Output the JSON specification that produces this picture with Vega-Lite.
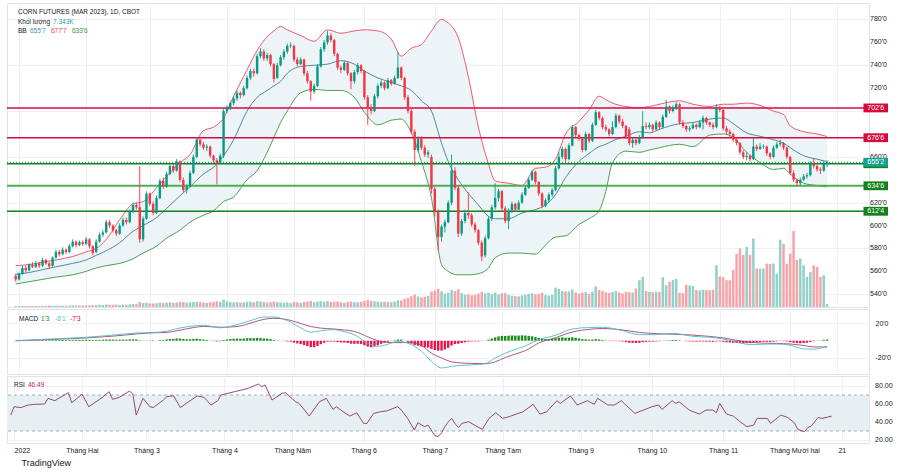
{
  "$schema": "https://vega.github.io/schema/vega-lite/v6.json",
  "background": "#ffffff",
  "padding": {"left": 5, "top": 2, "right": 0, "bottom": 0},
  "spacing": 0,
  "config": {
    "font": "Liberation Sans",
    "view": {"stroke": "#e0e3eb", "strokeWidth": 1},
    "axis": {"labelFont": "Liberation Sans", "labelFontSize": 7, "labelColor": "#131722", "domain": false, "ticks": false, "gridColor": "#eef0f5", "gridWidth": 1, "labelOverlap": false}
  },
  "title": {"text": "TradingView", "orient": "bottom", "anchor": "start", "fontSize": 9, "fontWeight": "normal", "color": "#131722", "font": "Liberation Sans", "offset": 5, "dx": 16},
  "datasets": {
    "bars": [
      {"t":-1,"o":556,"hi":558,"lo":551,"c":553,"v":2.1,"mh":0.2},
      {"t":0,"o":553,"hi":559,"lo":552,"c":558,"v":2.5,"mh":0.3},
      {"t":1,"o":558,"hi":565,"lo":557,"c":563,"v":2.8,"mh":0.4},
      {"t":2,"o":563,"hi":565,"lo":559,"c":561,"v":2.4,"mh":0.4},
      {"t":3,"o":561,"hi":567,"lo":560,"c":566,"v":2.6,"mh":0.5},
      {"t":4,"o":566,"hi":568,"lo":563,"c":564,"v":2.2,"mh":0.5},
      {"t":5,"o":564,"hi":569,"lo":563,"c":567,"v":2.7,"mh":0.6},
      {"t":6,"o":567,"hi":568,"lo":563,"c":565,"v":2.3,"mh":0.6},
      {"t":7,"o":565,"hi":572,"lo":564,"c":570,"v":3.0,"mh":0.7},
      {"t":8,"o":570,"hi":571,"lo":566,"c":567,"v":2.9,"mh":0.7},
      {"t":9,"o":567,"hi":568,"lo":562,"c":564.5,"v":3.4,"mh":0.6},
      {"t":10,"o":565,"hi":573,"lo":564,"c":572,"v":3.1,"mh":0.7},
      {"t":11,"o":572,"hi":579,"lo":571,"c":577,"v":3.6,"mh":0.8},
      {"t":12,"o":577,"hi":579,"lo":573,"c":575,"v":3.0,"mh":0.8},
      {"t":13,"o":575,"hi":581,"lo":574,"c":579,"v":3.3,"mh":0.9},
      {"t":14,"o":579,"hi":580,"lo":575,"c":577,"v":2.8,"mh":0.9},
      {"t":15,"o":577,"hi":584,"lo":576,"c":582,"v":3.5,"mh":1.0},
      {"t":16,"o":582,"hi":588,"lo":581,"c":586,"v":4.0,"mh":1.0},
      {"t":17,"o":586,"hi":587,"lo":581,"c":583,"v":3.7,"mh":1.0},
      {"t":18,"o":583,"hi":587,"lo":582,"c":585.5,"v":3.4,"mh":1.0},
      {"t":19,"o":585.5,"hi":587,"lo":582,"c":584,"v":3.9,"mh":1.0},
      {"t":20,"o":584,"hi":590,"lo":583,"c":588,"v":4.5,"mh":1.1},
      {"t":21,"o":588,"hi":589,"lo":580,"c":582,"v":4.2,"mh":1.0},
      {"t":22,"o":582,"hi":583,"lo":574,"c":576,"v":4.8,"mh":0.8},
      {"t":23,"o":577,"hi":588,"lo":576,"c":586,"v":5.1,"mh":0.9},
      {"t":24,"o":586,"hi":594,"lo":585,"c":592,"v":5.5,"mh":1.1},
      {"t":25,"o":592,"hi":596,"lo":590,"c":594,"v":5.0,"mh":1.2},
      {"t":26,"o":594,"hi":605,"lo":593,"c":603,"v":6.2,"mh":1.4},
      {"t":27,"o":603,"hi":605,"lo":598,"c":600,"v":5.8,"mh":1.4},
      {"t":28,"o":600,"hi":601,"lo":594,"c":596,"v":5.6,"mh":1.3},
      {"t":29,"o":596,"hi":597,"lo":591,"c":593,"v":6.0,"mh":1.1},
      {"t":30,"o":593,"hi":602,"lo":592,"c":600,"v":5.4,"mh":1.2},
      {"t":31,"o":600,"hi":607,"lo":599,"c":605,"v":6.1,"mh":1.3},
      {"t":32,"o":605,"hi":607,"lo":601,"c":603,"v":5.7,"mh":1.3},
      {"t":33,"o":603,"hi":614,"lo":602,"c":612,"v":6.8,"mh":1.5},
      {"t":34,"o":612,"hi":620,"lo":611,"c":618,"v":7.5,"mh":1.6},
      {"t":35,"o":618,"hi":620,"lo":614,"c":616,"v":7.1,"mh":1.5},
      {"t":36,"o":616,"hi":652,"lo":585,"c":588,"v":12.5,"mh":0.6},
      {"t":37,"o":588,"hi":608,"lo":586,"c":606,"v":9.8,"mh":0.2},
      {"t":38,"o":606,"hi":630,"lo":605,"c":628,"v":10.5,"mh":0.3},
      {"t":39,"o":628,"hi":629,"lo":617,"c":619,"v":9.2,"mh":-0.3},
      {"t":40,"o":619,"hi":621,"lo":609,"c":611,"v":8.8,"mh":-0.5},
      {"t":41,"o":611,"hi":626,"lo":610,"c":624,"v":9.6,"mh":0.1},
      {"t":42,"o":624,"hi":641,"lo":623,"c":639,"v":11.2,"mh":0.8},
      {"t":43,"o":639,"hi":642,"lo":632,"c":634,"v":10.1,"mh":0.9},
      {"t":44,"o":634,"hi":647,"lo":633,"c":645,"v":10.8,"mh":1.5},
      {"t":45,"o":645,"hi":654,"lo":644,"c":652,"v":11.9,"mh":2.0},
      {"t":46,"o":652,"hi":654,"lo":646,"c":648,"v":10.4,"mh":2.1},
      {"t":47,"o":648,"hi":658,"lo":647,"c":656,"v":11.0,"mh":2.6},
      {"t":48,"o":656,"hi":657,"lo":638,"c":640,"v":12.8,"mh":2.5},
      {"t":49,"o":640,"hi":642,"lo":629,"c":631,"v":12.2,"mh":2.0},
      {"t":50,"o":631,"hi":636,"lo":628,"c":634,"v":10.6,"mh":1.7},
      {"t":51,"o":634,"hi":648,"lo":633,"c":646,"v":11.5,"mh":1.8},
      {"t":52,"o":646,"hi":662,"lo":645,"c":660,"v":12.6,"mh":2.1},
      {"t":53,"o":660,"hi":677,"lo":659,"c":675,"v":13.4,"mh":2.3},
      {"t":54,"o":675,"hi":676,"lo":669,"c":671,"v":12.0,"mh":1.9},
      {"t":55,"o":671,"hi":673,"lo":666,"c":668,"v":11.3,"mh":1.4},
      {"t":56,"o":668,"hi":671,"lo":665,"c":669,"v":10.2,"mh":1.0},
      {"t":57,"o":669,"hi":670,"lo":659,"c":661,"v":11.8,"mh":0.3},
      {"t":58,"o":661,"hi":662,"lo":655,"c":657,"v":12.4,"mh":-0.4},
      {"t":59,"o":657,"hi":659,"lo":636,"c":655,"v":14.5,"mh":-0.8},
      {"t":60,"o":655,"hi":663,"lo":654,"c":661,"v":12.9,"mh":-0.6},
      {"t":61,"o":661,"hi":702,"lo":659,"c":700,"v":18.6,"mh":0.9},
      {"t":62,"o":700,"hi":705,"lo":698,"c":703,"v":14.2,"mh":1.5},
      {"t":63,"o":703,"hi":709,"lo":701,"c":707,"v":12.8,"mh":1.9},
      {"t":64,"o":707,"hi":713,"lo":705,"c":711,"v":11.7,"mh":2.2},
      {"t":65,"o":711,"hi":718,"lo":709,"c":716,"v":12.3,"mh":2.5},
      {"t":66,"o":716,"hi":717,"lo":711,"c":714,"v":10.9,"mh":2.4},
      {"t":67,"o":714,"hi":722,"lo":713,"c":720,"v":11.4,"mh":2.6},
      {"t":68,"o":720,"hi":731,"lo":719,"c":729,"v":12.9,"mh":2.9},
      {"t":69,"o":729,"hi":737,"lo":727,"c":735,"v":13.5,"mh":3.0},
      {"t":70,"o":735,"hi":737,"lo":730,"c":733,"v":11.6,"mh":2.9},
      {"t":71,"o":733,"hi":750,"lo":732,"c":748,"v":14.8,"mh":3.1},
      {"t":72,"o":748,"hi":755,"lo":746,"c":752,"v":13.9,"mh":3.0},
      {"t":73,"o":752,"hi":754,"lo":744,"c":746,"v":12.7,"mh":2.7},
      {"t":74,"o":746,"hi":751,"lo":744,"c":749,"v":11.2,"mh":2.5},
      {"t":75,"o":749,"hi":750,"lo":739,"c":741,"v":12.0,"mh":1.9},
      {"t":76,"o":741,"hi":742,"lo":725,"c":728,"v":13.8,"mh":0.8},
      {"t":77,"o":729,"hi":742,"lo":728,"c":740,"v":12.4,"mh":0.3},
      {"t":78,"o":740,"hi":749,"lo":739,"c":747,"v":11.1,"mh":-0.1},
      {"t":79,"o":747,"hi":754,"lo":745,"c":752,"v":10.5,"mh":-0.4},
      {"t":80,"o":752,"hi":759,"lo":750,"c":757,"v":11.8,"mh":-0.8},
      {"t":81,"o":757,"hi":760,"lo":755,"c":757.5,"v":9.6,"mh":-1.2},
      {"t":82,"o":757,"hi":758,"lo":743,"c":745,"v":12.3,"mh":-2.2},
      {"t":83,"o":745,"hi":747,"lo":739,"c":741,"v":11.7,"mh":-3.1},
      {"t":84,"o":741,"hi":747,"lo":740,"c":745,"v":10.3,"mh":-3.8},
      {"t":85,"o":745,"hi":746,"lo":731,"c":733,"v":12.6,"mh":-5.0},
      {"t":86,"o":733,"hi":735,"lo":724,"c":726,"v":13.4,"mh":-6.2},
      {"t":87,"o":726,"hi":727,"lo":709,"c":717,"v":15.2,"mh":-7.5},
      {"t":88,"o":717,"hi":724,"lo":715,"c":722,"v":12.1,"mh":-7.6},
      {"t":89,"o":722,"hi":741,"lo":721,"c":739,"v":13.7,"mh":-6.1},
      {"t":90,"o":739,"hi":756,"lo":738,"c":754,"v":14.4,"mh":-4.0},
      {"t":91,"o":754,"hi":762,"lo":752,"c":760,"v":13.1,"mh":-2.4},
      {"t":92,"o":760,"hi":770,"lo":758,"c":766,"v":14.9,"mh":-1.1},
      {"t":93,"o":766,"hi":768,"lo":760,"c":762,"v":12.5,"mh":-0.9},
      {"t":94,"o":762,"hi":763,"lo":748,"c":750,"v":13.3,"mh":-1.0},
      {"t":95,"o":750,"hi":751,"lo":736,"c":738,"v":14.0,"mh":-1.5},
      {"t":96,"o":738,"hi":740,"lo":733,"c":736,"v":11.9,"mh":-2.0},
      {"t":97,"o":736,"hi":744,"lo":735,"c":742,"v":10.7,"mh":-2.1},
      {"t":98,"o":742,"hi":743,"lo":731,"c":733,"v":12.8,"mh":-2.6},
      {"t":99,"o":733,"hi":734,"lo":719,"c":726,"v":13.6,"mh":-3.4},
      {"t":100,"o":726,"hi":736,"lo":724,"c":734,"v":12.2,"mh":-3.6},
      {"t":101,"o":734,"hi":742,"lo":732,"c":740,"v":11.8,"mh":-3.5},
      {"t":102,"o":740,"hi":741,"lo":733,"c":735,"v":12.6,"mh":-3.9},
      {"t":103,"o":735,"hi":736,"lo":710,"c":712,"v":15.1,"mh":-5.3},
      {"t":104,"o":712,"hi":714,"lo":688,"c":703,"v":17.8,"mh":-6.8},
      {"t":105,"o":703,"hi":706,"lo":697,"c":700,"v":15.5,"mh":-7.6},
      {"t":106,"o":700,"hi":715,"lo":699,"c":713,"v":14.3,"mh":-6.8},
      {"t":107,"o":713,"hi":724,"lo":711,"c":722,"v":13.6,"mh":-5.2},
      {"t":108,"o":722,"hi":727,"lo":720,"c":725,"v":12.4,"mh":-3.6},
      {"t":109,"o":725,"hi":726,"lo":718,"c":720,"v":13.0,"mh":-2.4},
      {"t":110,"o":720,"hi":729,"lo":719,"c":727,"v":12.7,"mh":-1.2},
      {"t":111,"o":727,"hi":728,"lo":722,"c":724,"v":11.9,"mh":-0.3},
      {"t":112,"o":724,"hi":731,"lo":723,"c":729,"v":13.8,"mh":0.6},
      {"t":113,"o":729,"hi":752,"lo":728,"c":738,"v":17.2,"mh":1.4},
      {"t":114,"o":738,"hi":739,"lo":727,"c":729,"v":16.4,"mh":1.3},
      {"t":115,"o":729,"hi":730,"lo":710,"c":712,"v":20.5,"mh":0.2},
      {"t":116,"o":712,"hi":714,"lo":698,"c":700,"v":22.5,"mh":-1.3},
      {"t":117,"o":700,"hi":702,"lo":680,"c":682,"v":26.8,"mh":-3.2},
      {"t":118,"o":682,"hi":684,"lo":652,"c":666,"v":31.2,"mh":-5.2},
      {"t":119,"o":666,"hi":678,"lo":664,"c":676,"v":26.5,"mh":-5.8},
      {"t":120,"o":676,"hi":678,"lo":666,"c":668,"v":24.1,"mh":-6.7},
      {"t":121,"o":668,"hi":670,"lo":660,"c":662,"v":25.3,"mh":-7.6},
      {"t":122,"o":662,"hi":666,"lo":659,"c":664,"v":27.6,"mh":-8.0},
      {"t":123,"o":660,"hi":662,"lo":628,"c":632,"v":38.4,"mh":-9.5},
      {"t":124,"o":632,"hi":634,"lo":608,"c":612,"v":41.2,"mh":-10.8},
      {"t":125,"o":612,"hi":614,"lo":578,"c":590,"v":45.6,"mh":-11.6},
      {"t":126,"o":590,"hi":601,"lo":586,"c":599,"v":38.9,"mh":-11.4},
      {"t":127,"o":599,"hi":605,"lo":594,"c":603,"v":33.1,"mh":-10.2},
      {"t":128,"o":603,"hi":622,"lo":602,"c":620,"v":35.7,"mh":-8.3},
      {"t":129,"o":620,"hi":662,"lo":618,"c":648,"v":42.8,"mh":-5.6},
      {"t":130,"o":648,"hi":651,"lo":631,"c":633,"v":39.5,"mh":-3.9},
      {"t":131,"o":633,"hi":635,"lo":590,"c":593,"v":44.3,"mh":-3.5},
      {"t":132,"o":593,"hi":606,"lo":591,"c":604,"v":34.6,"mh":-2.7},
      {"t":133,"o":604,"hi":614,"lo":602,"c":611,"v":30.2,"mh":-1.8},
      {"t":134,"o":611,"hi":629,"lo":606,"c":609,"v":31.8,"mh":-1.1},
      {"t":135,"o":609,"hi":611,"lo":599,"c":601,"v":29.4,"mh":-0.8},
      {"t":136,"o":601,"hi":603,"lo":594,"c":596,"v":30.7,"mh":-0.6},
      {"t":137,"o":596,"hi":597,"lo":583,"c":585,"v":33.5,"mh":-0.7},
      {"t":138,"o":585,"hi":587,"lo":569,"c":573,"v":37.9,"mh":-0.4},
      {"t":139,"o":574,"hi":591,"lo":572,"c":589,"v":34.2,"mh":0.2},
      {"t":140,"o":589,"hi":608,"lo":588,"c":606,"v":35.8,"mh":1.2},
      {"t":141,"o":606,"hi":618,"lo":604,"c":616,"v":32.6,"mh":2.4},
      {"t":142,"o":616,"hi":637,"lo":614,"c":624,"v":36.1,"mh":3.8},
      {"t":143,"o":624,"hi":632,"lo":621,"c":630,"v":31.4,"mh":5.0},
      {"t":144,"o":630,"hi":631,"lo":613,"c":615,"v":33.9,"mh":5.6},
      {"t":145,"o":615,"hi":617,"lo":602,"c":604,"v":35.2,"mh":5.5},
      {"t":146,"o":604,"hi":615,"lo":597,"c":613,"v":30.8,"mh":5.8},
      {"t":147,"o":613,"hi":621,"lo":611,"c":619,"v":28.4,"mh":6.1},
      {"t":148,"o":619,"hi":620,"lo":612,"c":614,"v":27.2,"mh":5.9},
      {"t":149,"o":614,"hi":622,"lo":613,"c":620,"v":26.5,"mh":6.0},
      {"t":150,"o":620,"hi":629,"lo":619,"c":627,"v":29.1,"mh":6.2},
      {"t":151,"o":627,"hi":635,"lo":626,"c":633,"v":30.5,"mh":6.0},
      {"t":152,"o":633,"hi":642,"lo":632,"c":640,"v":32.8,"mh":5.6},
      {"t":153,"o":640,"hi":649,"lo":639,"c":647,"v":34.4,"mh":5.1},
      {"t":154,"o":647,"hi":648,"lo":636,"c":638,"v":31.7,"mh":4.2},
      {"t":155,"o":638,"hi":639,"lo":626,"c":628,"v":33.0,"mh":3.2},
      {"t":156,"o":628,"hi":629,"lo":615,"c":617,"v":35.6,"mh":2.3},
      {"t":157,"o":617,"hi":624,"lo":616,"c":622,"v":29.8,"mh":2.0},
      {"t":158,"o":622,"hi":629,"lo":620,"c":627,"v":28.6,"mh":2.1},
      {"t":159,"o":627,"hi":633,"lo":625,"c":631,"v":30.2,"mh":2.3},
      {"t":160,"o":631,"hi":652,"lo":630,"c":650,"v":48.5,"mh":3.0},
      {"t":161,"o":650,"hi":664,"lo":649,"c":660,"v":45.1,"mh":3.6},
      {"t":162,"o":660,"hi":669,"lo":658,"c":667,"v":40.3,"mh":3.9},
      {"t":163,"o":667,"hi":668,"lo":655,"c":658,"v":38.6,"mh":3.5},
      {"t":164,"o":658,"hi":672,"lo":657,"c":670,"v":39.4,"mh":3.6},
      {"t":165,"o":670,"hi":688,"lo":669,"c":686,"v":43.7,"mh":4.0},
      {"t":166,"o":686,"hi":687,"lo":677,"c":679,"v":36.2,"mh":3.4},
      {"t":167,"o":679,"hi":680,"lo":674,"c":676,"v":33.5,"mh":2.7},
      {"t":168,"o":676,"hi":677,"lo":664,"c":666,"v":35.8,"mh":1.8},
      {"t":169,"o":666,"hi":682,"lo":665,"c":680,"v":37.4,"mh":1.7},
      {"t":170,"o":680,"hi":681,"lo":672,"c":674,"v":32.9,"mh":1.2},
      {"t":171,"o":674,"hi":690,"lo":673,"c":688,"v":38.1,"mh":1.4},
      {"t":172,"o":688,"hi":701,"lo":687,"c":699,"v":51.5,"mh":1.8},
      {"t":173,"o":699,"hi":700,"lo":692,"c":694,"v":42.6,"mh":1.5},
      {"t":174,"o":694,"hi":695,"lo":684,"c":686,"v":40.2,"mh":0.9},
      {"t":175,"o":686,"hi":688,"lo":682,"c":684,"v":36.7,"mh":0.3},
      {"t":176,"o":684,"hi":685,"lo":678,"c":680,"v":35.4,"mh":-0.3},
      {"t":177,"o":680,"hi":691,"lo":679,"c":686,"v":37.9,"mh":-0.5},
      {"t":178,"o":686,"hi":698,"lo":685,"c":696,"v":39.8,"mh":-0.4},
      {"t":179,"o":696,"hi":697,"lo":689,"c":691,"v":36.5,"mh":-0.6},
      {"t":180,"o":691,"hi":693,"lo":685,"c":687,"v":34.1,"mh":-0.9},
      {"t":181,"o":687,"hi":688,"lo":676,"c":678,"v":38.3,"mh":-1.6},
      {"t":182,"o":684,"hi":686,"lo":670,"c":672,"v":37.0,"mh":-2.3},
      {"t":183,"o":672,"hi":677,"lo":668,"c":675,"v":36.2,"mh":-2.5},
      {"t":184,"o":675,"hi":676,"lo":670,"c":672,"v":46.4,"mh":-2.6},
      {"t":185,"o":672,"hi":679,"lo":671,"c":677,"v":66.8,"mh":-2.4},
      {"t":186,"o":677,"hi":700,"lo":676,"c":687,"v":75.2,"mh":-1.7},
      {"t":187,"o":687,"hi":690,"lo":684,"c":686,"v":40.3,"mh":-1.3},
      {"t":188,"o":686,"hi":690,"lo":684,"c":688,"v":37.5,"mh":-1.0},
      {"t":189,"o":688,"hi":689,"lo":682,"c":684,"v":36.8,"mh":-1.0},
      {"t":190,"o":684,"hi":692,"lo":683,"c":690,"v":38.4,"mh":-0.7},
      {"t":191,"o":690,"hi":691,"lo":684,"c":686,"v":37.9,"mh":-0.6},
      {"t":192,"o":686,"hi":697,"lo":685,"c":695,"v":74.6,"mh":-0.2},
      {"t":193,"o":695,"hi":710,"lo":694,"c":704,"v":54.3,"mh":0.4},
      {"t":194,"o":704,"hi":705,"lo":698,"c":700,"v":63.1,"mh":0.6},
      {"t":195,"o":700,"hi":705,"lo":699,"c":703,"v":67.5,"mh":0.8},
      {"t":196,"o":703,"hi":708,"lo":701,"c":706,"v":70.2,"mh":0.9},
      {"t":197,"o":706,"hi":707,"lo":688,"c":690,"v":35.6,"mh":0.4},
      {"t":198,"o":690,"hi":692,"lo":685,"c":687,"v":34.8,"mh":-0.1},
      {"t":199,"o":687,"hi":688,"lo":682,"c":684,"v":55.4,"mh":-0.6},
      {"t":200,"o":684,"hi":687,"lo":682,"c":685,"v":54.1,"mh":-0.8},
      {"t":201,"o":685,"hi":690,"lo":684,"c":688,"v":52.7,"mh":-0.9},
      {"t":202,"o":688,"hi":689,"lo":684,"c":686,"v":42.2,"mh":-1.0},
      {"t":203,"o":686,"hi":692,"lo":685,"c":690,"v":41.5,"mh":-1.0},
      {"t":204,"o":690,"hi":696,"lo":684,"c":694,"v":43.0,"mh":-0.9},
      {"t":205,"o":694,"hi":695,"lo":688,"c":690,"v":42.6,"mh":-1.0},
      {"t":206,"o":690,"hi":691,"lo":686,"c":688,"v":41.8,"mh":-1.1},
      {"t":207,"o":688,"hi":690,"lo":684,"c":686,"v":43.4,"mh":-1.2},
      {"t":208,"o":686,"hi":706,"lo":685,"c":703,"v":104.5,"mh":-0.8},
      {"t":209,"o":703,"hi":705,"lo":699,"c":701,"v":76.3,"mh":-0.7},
      {"t":210,"o":701,"hi":702,"lo":683,"c":685,"v":75.1,"mh":-1.3},
      {"t":211,"o":685,"hi":687,"lo":680,"c":682,"v":67.2,"mh":-1.8},
      {"t":212,"o":682,"hi":684,"lo":677,"c":680,"v":66.8,"mh":-2.0},
      {"t":213,"o":680,"hi":681,"lo":673,"c":675,"v":92.4,"mh":-2.4},
      {"t":214,"o":675,"hi":677,"lo":670,"c":672,"v":133.0,"mh":-2.6},
      {"t":215,"o":672,"hi":673,"lo":662,"c":664,"v":146.2,"mh":-2.9},
      {"t":216,"o":664,"hi":666,"lo":658,"c":660,"v":130.4,"mh":-3.0},
      {"t":217,"o":660,"hi":664,"lo":657,"c":661,"v":150.1,"mh":-2.9},
      {"t":218,"o":661,"hi":662,"lo":656,"c":658,"v":130.6,"mh":-2.8},
      {"t":219,"o":658,"hi":677,"lo":657,"c":669,"v":171.4,"mh":-2.2},
      {"t":220,"o":669,"hi":671,"lo":665,"c":667,"v":96.3,"mh":-1.9},
      {"t":221,"o":667,"hi":672,"lo":666,"c":669,"v":95.8,"mh":-1.5},
      {"t":222,"o":669,"hi":671,"lo":667,"c":669.5,"v":96.1,"mh":-1.2},
      {"t":223,"o":669,"hi":670,"lo":661,"c":663,"v":108.4,"mh":-1.3},
      {"t":224,"o":663,"hi":664,"lo":658,"c":660,"v":107.6,"mh":-1.4},
      {"t":225,"o":660,"hi":670,"lo":659,"c":668,"v":108.9,"mh":-1.1},
      {"t":226,"o":668,"hi":673,"lo":667,"c":671,"v":83.2,"mh":-0.7},
      {"t":227,"o":671,"hi":675,"lo":669,"c":672,"v":168.3,"mh":-0.4},
      {"t":228,"o":672,"hi":673,"lo":666,"c":668,"v":158.0,"mh":-0.5},
      {"t":229,"o":668,"hi":669,"lo":658,"c":660,"v":108.2,"mh":-0.9},
      {"t":230,"o":660,"hi":661,"lo":644,"c":646,"v":133.4,"mh":-1.6},
      {"t":231,"o":646,"hi":648,"lo":638,"c":640,"v":190.2,"mh":-2.3},
      {"t":232,"o":640,"hi":641,"lo":634,"c":637,"v":118.1,"mh":-2.8},
      {"t":233,"o":637,"hi":642,"lo":635,"c":640,"v":121.3,"mh":-2.9},
      {"t":234,"o":640,"hi":645,"lo":639,"c":643,"v":104.2,"mh":-2.6},
      {"t":235,"o":643,"hi":646,"lo":641,"c":644,"v":75.4,"mh":-2.3},
      {"t":236,"o":644,"hi":656,"lo":643,"c":654,"v":87.1,"mh":-1.4},
      {"t":237,"o":654,"hi":659,"lo":650,"c":652,"v":104.3,"mh":-0.6},
      {"t":238,"o":652,"hi":653,"lo":647,"c":649,"v":100.2,"mh":-0.2},
      {"t":239,"o":649,"hi":651,"lo":645,"c":648,"v":75.3,"mh":0.3},
      {"t":240,"o":648,"hi":656,"lo":647,"c":654,"v":79.4,"mh":1.0},
      {"t":241,"o":654,"hi":657,"lo":651,"c":655.25,"v":7.343,"mh":1.375}
    ],
    "bb": [
      {"t":-1,"up":565,"mid":557.5,"dn":549},{"t":3,"up":566,"mid":559,"dn":551},{"t":7,"up":568,"mid":561.5,"dn":553},
      {"t":11,"up":570,"mid":564,"dn":555},{"t":16,"up":573,"mid":567,"dn":557},{"t":20,"up":577,"mid":570,"dn":560},
      {"t":23,"up":580,"mid":574,"dn":563},{"t":26,"up":588,"mid":578,"dn":565},{"t":30,"up":605,"mid":585,"dn":567},
      {"t":34,"up":619,"mid":595,"dn":571},{"t":37,"up":621,"mid":600,"dn":576},{"t":41,"up":633,"mid":607,"dn":582},
      {"t":44,"up":643,"mid":615,"dn":589},{"t":48,"up":655,"mid":626,"dn":596},{"t":51,"up":662,"mid":634,"dn":603},
      {"t":55,"up":683,"mid":645,"dn":609},{"t":58,"up":686,"mid":651,"dn":613},{"t":61,"up":694,"mid":661,"dn":621},
      {"t":64,"up":713,"mid":675,"dn":625},{"t":68,"up":736,"mid":700,"dn":640},{"t":71,"up":753,"mid":712,"dn":648},
      {"t":74,"up":765,"mid":718,"dn":664},{"t":76,"up":770,"mid":722,"dn":677},{"t":78,"up":774,"mid":726,"dn":690},
      {"t":80,"up":771,"mid":733,"dn":700},{"t":84,"up":766,"mid":739,"dn":716},{"t":88,"up":761,"mid":740,"dn":719},
      {"t":92,"up":771,"mid":741,"dn":718},{"t":96,"up":768,"mid":744,"dn":718},{"t":100,"up":770,"mid":741,"dn":712},
      {"t":103,"up":771,"mid":735,"dn":699},{"t":107,"up":770,"mid":729,"dn":688},{"t":111,"up":763,"mid":725,"dn":692},
      {"t":114,"up":748,"mid":722,"dn":693},{"t":117,"up":755,"mid":718,"dn":681},{"t":120,"up":758,"mid":709,"dn":656},
      {"t":123,"up":770,"mid":700,"dn":624},{"t":126,"up":780,"mid":672,"dn":566},{"t":128,"up":777,"mid":656,"dn":560},
      {"t":131,"up":764,"mid":640,"dn":557},{"t":134,"up":730,"mid":628,"dn":557},{"t":137,"up":686,"mid":618,"dn":558},
      {"t":140,"up":654,"mid":608,"dn":563},{"t":142,"up":639,"mid":606,"dn":572},{"t":146,"up":637,"mid":606,"dn":576},
      {"t":150,"up":635,"mid":611,"dn":576},{"t":154,"up":650,"mid":614,"dn":575},{"t":157,"up":651,"mid":618,"dn":583},
      {"t":160,"up":658,"mid":627,"dn":590},{"t":163,"up":680,"mid":642,"dn":591},{"t":167,"up":691,"mid":656,"dn":601},
      {"t":170,"up":701,"mid":663,"dn":606},{"t":173,"up":713,"mid":669,"dn":613},{"t":175,"up":710,"mid":671,"dn":630},
      {"t":177,"up":707,"mid":674,"dn":655},{"t":181,"up":704,"mid":678,"dn":665},{"t":185,"up":703,"mid":682,"dn":664},
      {"t":188,"up":704,"mid":681,"dn":666},{"t":191,"up":706,"mid":684,"dn":668},{"t":194,"up":708,"mid":687,"dn":670},
      {"t":197,"up":709,"mid":689,"dn":671},{"t":201,"up":706,"mid":690,"dn":669},{"t":206,"up":704,"mid":693,"dn":679},
      {"t":210,"up":706,"mid":694,"dn":680},{"t":213,"up":706,"mid":689,"dn":677},{"t":217,"up":707,"mid":681,"dn":664},
      {"t":221,"up":705,"mid":678,"dn":655},{"t":225,"up":700,"mid":675,"dn":649},{"t":228,"up":697,"mid":672,"dn":650},
      {"t":230,"up":687,"mid":668,"dn":645},{"t":234,"up":682,"mid":661,"dn":637},{"t":238,"up":680,"mid":658,"dn":635},
      {"t":241,"up":677.875,"mid":655.875,"dn":633.75}
    ],
    "macd": [
      {"t":-1,"m":0,"s":0},{"t":5,"m":1.2,"s":0.8},{"t":12,"m":2.5,"s":1.8},{"t":20,"m":4,"s":3.2},
      {"t":28,"m":6.5,"s":5.3},{"t":35,"m":9,"s":7.8},{"t":40,"m":9.5,"s":9.2},{"t":44,"m":11,"s":9.6},
      {"t":48,"m":14.8,"s":12.3},{"t":52,"m":17,"s":15.2},{"t":55,"m":17.9,"s":16.7},{"t":60,"m":15,"s":15.6},
      {"t":65,"m":18.6,"s":16.5},{"t":70,"m":24.5,"s":21.5},{"t":73,"m":27.5,"s":24.8},{"t":76,"m":27.5,"s":26},
      {"t":80,"m":23.3,"s":24.5},{"t":84,"m":15,"s":20},{"t":87,"m":9.8,"s":16.5},{"t":90,"m":11.5,"s":14.6},
      {"t":94,"m":12.8,"s":13.6},{"t":97,"m":10.5,"s":12.5},{"t":100,"m":7,"s":10.8},{"t":104,"m":-2.7,"s":4.5},
      {"t":107,"m":-6.5,"s":0},{"t":110,"m":-4,"s":-2},{"t":113,"m":-0.8,"s":-2.2},{"t":116,"m":-3,"s":-2},
      {"t":120,"m":-12,"s":-5.5},{"t":123,"m":-24,"s":-14.5},{"t":126,"m":-31.6,"s":-20},{"t":129,"m":-29.7,"s":-24.5},
      {"t":132,"m":-28.5,"s":-25.8},{"t":135,"m":-28,"s":-26.4},{"t":139,"m":-26.6,"s":-26.6},{"t":142,"m":-20,"s":-24.5},
      {"t":145,"m":-14.5,"s":-19.5},{"t":148,"m":-10,"s":-15.5},{"t":151,"m":-6,"s":-11.5},{"t":155,"m":1.2,"s":-2.6},
      {"t":160,"m":6.3,"s":3.5},{"t":165,"m":13.6,"s":10.1},{"t":170,"m":15.3,"s":13.2},{"t":174,"m":15.6,"s":14.2},
      {"t":180,"m":11.7,"s":12.5},{"t":185,"m":7,"s":9.6},{"t":190,"m":7,"s":8.2},{"t":195,"m":8.6,"s":7.5},
      {"t":201,"m":5.1,"s":6.5},{"t":206,"m":4,"s":5},{"t":210,"m":2,"s":3.2},{"t":214,"m":-1.5,"s":0.5},
      {"t":218,"m":-4.5,"s":-1.8},{"t":222,"m":-4,"s":-2.8},{"t":226,"m":-3.8,"s":-3.2},{"t":230,"m":-5.3,"s":-3.8},
      {"t":234,"m":-9.5,"s":-5.5},{"t":237,"m":-9.8,"s":-7.2},{"t":241,"m":-6.125,"s":-7.375}
    ],
    "rsi": [
      {"t":-1,"r":47.7},{"t":0,"r":57},{"t":2,"r":56},{"t":4,"r":58.8},{"t":6,"r":59.6},{"t":9,"r":60},{"t":10,"r":66.3},
      {"t":12,"r":63.7},{"t":16,"r":72.6},{"t":17,"r":61.4},{"t":20,"r":71},{"t":22,"r":57},{"t":26,"r":67.4},{"t":28,"r":73.7},
      {"t":29,"r":65.2},{"t":31,"r":67.4},{"t":34,"r":74.4},{"t":35,"r":71},{"t":36,"r":47.7},{"t":38,"r":66.3},{"t":40,"r":57},
      {"t":41,"r":56},{"t":44,"r":64.4},{"t":45,"r":68.1},{"t":47,"r":69.2},{"t":49,"r":56},{"t":51,"r":61.4},{"t":54,"r":68.9},
      {"t":56,"r":67.4},{"t":58,"r":58.9},{"t":60,"r":63.7},{"t":61,"r":70},{"t":65,"r":73.7},{"t":69,"r":77.4},{"t":72,"r":82.2},
      {"t":73,"r":79.2},{"t":74,"r":81.1},{"t":76,"r":64.4},{"t":79,"r":71.8},{"t":80,"r":72.6},{"t":83,"r":62.5},{"t":84,"r":60.7},
      {"t":87,"r":46.6},{"t":90,"r":62.5},{"t":92,"r":66.3},{"t":94,"r":54},{"t":95,"r":57},{"t":97,"r":51.4},{"t":99,"r":46.6},
      {"t":101,"r":50.3},{"t":103,"r":38.5},{"t":104,"r":38.5},{"t":106,"r":49.6},{"t":108,"r":51.4},{"t":110,"r":52.5},
      {"t":113,"r":57},{"t":114,"r":54},{"t":116,"r":44},{"t":118,"r":31},{"t":119,"r":39.2},{"t":121,"r":34.8},{"t":122,"r":36.6},
      {"t":124,"r":25},{"t":125,"r":23.7},{"t":126,"r":28},{"t":127,"r":35},{"t":128,"r":40.3},{"t":129,"r":44},{"t":130,"r":38},
      {"t":131,"r":34},{"t":132,"r":38.5},{"t":134,"r":40.3},{"t":136,"r":36},{"t":138,"r":31.8},{"t":140,"r":44},{"t":142,"r":50.3},
      {"t":144,"r":44},{"t":146,"r":46},{"t":148,"r":48.8},{"t":150,"r":51.4},{"t":153,"r":59.6},{"t":155,"r":48.8},{"t":157,"r":51.4},
      {"t":160,"r":63.7},{"t":161,"r":60.7},{"t":164,"r":68.9},{"t":166,"r":58.9},{"t":169,"r":63.7},{"t":171,"r":59.6},{"t":172,"r":66.3},
      {"t":175,"r":58.9},{"t":177,"r":58.9},{"t":179,"r":63.7},{"t":180,"r":60},{"t":183,"r":49.6},{"t":185,"r":52.5},{"t":188,"r":57},
      {"t":190,"r":58.9},{"t":191,"r":54},{"t":194,"r":63.7},{"t":195,"r":60.7},{"t":196,"r":62.5},{"t":199,"r":53.3},{"t":202,"r":48.8},
      {"t":204,"r":53.3},{"t":206,"r":53.3},{"t":207,"r":50.3},{"t":208,"r":60.7},{"t":210,"r":48.8},{"t":212,"r":46.6},{"t":214,"r":40.3},
      {"t":216,"r":34.8},{"t":218,"r":36.6},{"t":219,"r":44},{"t":222,"r":44},{"t":223,"r":38.5},{"t":226,"r":47.7},{"t":228,"r":45.1},
      {"t":230,"r":39.2},{"t":231,"r":31.8},{"t":233,"r":29.2},{"t":234,"r":34},{"t":235,"r":35.5},{"t":237,"r":45.1},{"t":238,"r":44},
      {"t":241,"r":46.49}
    ],
    "levels": [
      {"p":702.75,"lab":"702'6","kind":"resistance"},
      {"p":676.75,"lab":"676'6","kind":"resistance"},
      {"p":654,"lab":"654'0","kind":"support"},
      {"p":634.75,"lab":"634'6","kind":"support-main"},
      {"p":612.5,"lab":"612'4","kind":"support"}
    ],
    "last": [{"p":655.25,"lab":"655'2"}],
    "priceTicks": [
      {"p":540,"lab":"540'0"},{"p":560,"lab":"560'0"},{"p":580,"lab":"580'0"},{"p":600,"lab":"600'0"},{"p":620,"lab":"620'0"},
      {"p":660,"lab":"660'0"},{"p":720,"lab":"720'0"},{"p":740,"lab":"740'0"},{"p":760,"lab":"760'0"},{"p":780,"lab":"780'0"}
    ],
    "rsiTicks": [
      {"r":20,"lab":"20.00"},{"r":40,"lab":"40.00"},{"r":60,"lab":"60.00"},{"r":80,"lab":"80.00"}
    ]
  },
  "vconcat": [
    {
      "width": 862,
      "height": 304,
      "resolve": {"scale": {"y": "independent"}, "axis": {"y": "independent"}},
      "layer": [
        {
          "data": {"name": "bars"},
          "mark": {"type": "bar", "size": 2.5},
          "encoding": {
            "x": {"field": "t", "type": "quantitative", "scale": {"domain": [-2.1, 252], "nice": false, "zero": false},
                  "axis": {"values": [0, 20, 39, 62, 82, 103, 124, 144, 167, 188, 209, 230, 244], "labels": false, "grid": true, "title": null}},
            "y": {"field": "v", "type": "quantitative", "scale": {"domain": [0, 760], "nice": false}, "axis": null},
            "color": {"condition": {"test": "datum.c >= datum.o", "value": "#92d1c8"}, "value": "#f7a4a8"}
          }
        },
        {
          "layer": [
            {
              "data": {"name": "bb"},
              "mark": {"type": "area", "color": "#edf4f7", "interpolate": "monotone"},
              "encoding": {
                "x": {"field": "t", "type": "quantitative"},
                "y": {"field": "up", "type": "quantitative", "scale": {"domain": [528.9, 794.4], "nice": false, "zero": false},
                      "axis": {"orient": "right", "values": [540, 560, 580, 600, 620, 640, 660, 680, 700, 720, 740, 760, 780], "labels": false, "grid": true, "title": null}},
                "y2": {"field": "dn"}
              }
            },
            {
              "data": {"name": "bb"},
              "mark": {"type": "line", "color": "#ec4a5c", "strokeWidth": 0.9, "interpolate": "monotone"},
              "encoding": {"x": {"field": "t", "type": "quantitative"}, "y": {"field": "up", "type": "quantitative"}}
            },
            {
              "data": {"name": "bb"},
              "mark": {"type": "line", "color": "#3f7d8f", "strokeWidth": 0.9, "interpolate": "monotone"},
              "encoding": {"x": {"field": "t", "type": "quantitative"}, "y": {"field": "mid", "type": "quantitative"}}
            },
            {
              "data": {"name": "bb"},
              "mark": {"type": "line", "color": "#3d9440", "strokeWidth": 0.9, "interpolate": "monotone"},
              "encoding": {"x": {"field": "t", "type": "quantitative"}, "y": {"field": "dn", "type": "quantitative"}}
            },
            {
              "data": {"name": "levels"},
              "transform": [{"filter": "datum.kind == 'resistance'"}],
              "mark": {"type": "rule", "color": "#d8093f", "strokeWidth": 1.6},
              "encoding": {"y": {"field": "p", "type": "quantitative"}}
            },
            {
              "data": {"name": "levels"},
              "transform": [{"filter": "datum.kind == 'support'"}],
              "mark": {"type": "rule", "color": "#13821a", "strokeWidth": 1.4},
              "encoding": {"y": {"field": "p", "type": "quantitative"}}
            },
            {
              "data": {"name": "levels"},
              "transform": [{"filter": "datum.kind == 'support-main'"}],
              "mark": {"type": "rule", "color": "#4caf50", "strokeWidth": 2},
              "encoding": {"y": {"field": "p", "type": "quantitative"}}
            },
            {
              "data": {"name": "last"},
              "mark": {"type": "rule", "color": "#089981", "strokeWidth": 1, "strokeDash": [1, 2]},
              "encoding": {"y": {"field": "p", "type": "quantitative"}}
            },
            {
              "data": {"name": "bars"},
              "mark": {"type": "rule", "strokeWidth": 0.9},
              "encoding": {
                "x": {"field": "t", "type": "quantitative"},
                "y": {"field": "lo", "type": "quantitative"},
                "y2": {"field": "hi"},
                "color": {"condition": {"test": "datum.c >= datum.o", "value": "#089981"}, "value": "#f23645"}
              }
            },
            {
              "data": {"name": "bars"},
              "mark": {"type": "bar", "size": 2.4},
              "encoding": {
                "x": {"field": "t", "type": "quantitative"},
                "y": {"field": "o", "type": "quantitative"},
                "y2": {"field": "c"},
                "color": {"condition": {"test": "datum.c >= datum.o", "value": "#089981"}, "value": "#f23645"}
              }
            },
            {
              "data": {"name": "priceTicks"},
              "mark": {"type": "text", "color": "#131722", "fontSize": 7, "align": "left", "baseline": "middle"},
              "encoding": {
                "x": {"datum": 253.8, "type": "quantitative"},
                "y": {"field": "p", "type": "quantitative"},
                "text": {"field": "lab"}
              }
            },
            {
              "data": {"name": "levels"},
              "transform": [{"filter": "datum.p != 654"}],
              "mark": {"type": "point", "shape": "M-1,-0.36H1V0.36H-1Z", "filled": true, "size": 600, "opacity": 1},
              "encoding": {
                "x": {"datum": 255.5, "type": "quantitative"},
                "y": {"field": "p", "type": "quantitative"},
                "color": {"field": "kind", "type": "nominal", "scale": {"domain": ["resistance", "support", "support-main"], "range": ["#d8093f", "#13821a", "#13821a"]}, "legend": null}
              }
            },
            {
              "data": {"name": "levels"},
              "transform": [{"filter": "datum.p == 654"}],
              "mark": {"type": "point", "shape": "M-1,-0.36H1V0.36H-1Z", "filled": true, "size": 600, "opacity": 1, "color": "#13821a", "dy": 8.5},
              "encoding": {
                "x": {"datum": 255.5, "type": "quantitative"},
                "y": {"field": "p", "type": "quantitative"}
              }
            },
            {
              "data": {"name": "last"},
              "mark": {"type": "point", "shape": "M-1,-0.36H1V0.36H-1Z", "filled": true, "size": 600, "opacity": 1, "color": "#16a090"},
              "encoding": {
                "x": {"datum": 255.5, "type": "quantitative"},
                "y": {"field": "p", "type": "quantitative"}
              }
            },
            {
              "data": {"name": "levels"},
              "transform": [{"filter": "datum.p != 654"}],
              "mark": {"type": "text", "color": "#ffffff", "fontSize": 7, "align": "center", "baseline": "middle"},
              "encoding": {
                "x": {"datum": 255.5, "type": "quantitative"},
                "y": {"field": "p", "type": "quantitative"},
                "text": {"field": "lab"}
              }
            },
            {
              "data": {"name": "levels"},
              "transform": [{"filter": "datum.p == 654"}],
              "mark": {"type": "text", "color": "#ffffff", "fontSize": 7, "align": "center", "baseline": "middle", "dy": 8.5},
              "encoding": {
                "x": {"datum": 255.5, "type": "quantitative"},
                "y": {"field": "p", "type": "quantitative"},
                "text": {"field": "lab"}
              }
            },
            {
              "data": {"name": "last"},
              "mark": {"type": "text", "color": "#ffffff", "fontSize": 7, "align": "center", "baseline": "middle"},
              "encoding": {
                "x": {"datum": 255.5, "type": "quantitative"},
                "y": {"field": "p", "type": "quantitative"},
                "text": {"field": "lab"}
              }
            },
            {
              "data": {"values": [{}]},
              "mark": {"type": "text", "text": "CORN FUTURES (MAR 2023), 1D, CBOT", "color": "#131722", "fontSize": 6.5, "align": "left", "baseline": "middle", "dx": 6, "dy": 9},
              "encoding": {"x": {"datum": -2.1, "type": "quantitative"}, "y": {"datum": 794.4, "type": "quantitative"}}
            },
            {
              "data": {"values": [{}]},
              "mark": {"type": "text", "text": "Khối lượng", "color": "#131722", "fontSize": 6.5, "align": "left", "baseline": "middle", "dx": 6, "dy": 18.7},
              "encoding": {"x": {"datum": -2.1, "type": "quantitative"}, "y": {"datum": 794.4, "type": "quantitative"}}
            },
            {
              "data": {"values": [{}]},
              "mark": {"type": "text", "text": "7.343K", "color": "#22ab94", "fontSize": 6.5, "align": "left", "baseline": "middle", "dx": 41, "dy": 18.7},
              "encoding": {"x": {"datum": -2.1, "type": "quantitative"}, "y": {"datum": 794.4, "type": "quantitative"}}
            },
            {
              "data": {"values": [{}]},
              "mark": {"type": "text", "text": "BB", "color": "#131722", "fontSize": 6.5, "align": "left", "baseline": "middle", "dx": 6, "dy": 28},
              "encoding": {"x": {"datum": -2.1, "type": "quantitative"}, "y": {"datum": 794.4, "type": "quantitative"}}
            },
            {
              "data": {"values": [{}]},
              "mark": {"type": "text", "text": "655'7", "color": "#3f8fb0", "fontSize": 6.5, "align": "left", "baseline": "middle", "dx": 18, "dy": 28},
              "encoding": {"x": {"datum": -2.1, "type": "quantitative"}, "y": {"datum": 794.4, "type": "quantitative"}}
            },
            {
              "data": {"values": [{}]},
              "mark": {"type": "text", "text": "677'7", "color": "#e04558", "fontSize": 6.5, "align": "left", "baseline": "middle", "dx": 39, "dy": 28},
              "encoding": {"x": {"datum": -2.1, "type": "quantitative"}, "y": {"datum": 794.4, "type": "quantitative"}}
            },
            {
              "data": {"values": [{}]},
              "mark": {"type": "text", "text": "633'6", "color": "#3d9440", "fontSize": 6.5, "align": "left", "baseline": "middle", "dx": 60, "dy": 28},
              "encoding": {"x": {"datum": -2.1, "type": "quantitative"}, "y": {"datum": 794.4, "type": "quantitative"}}
            }
          ]
        }
      ]
    },
    {
      "width": 862,
      "height": 65,
      "layer": [
        {
          "data": {"name": "bars"},
          "mark": {"type": "bar", "size": 2.4},
          "encoding": {
            "x": {"field": "t", "type": "quantitative", "scale": {"domain": [-2.1, 252], "nice": false, "zero": false},
                  "axis": {"values": [0, 20, 39, 62, 82, 103, 124, 144, 167, 188, 209, 230, 244], "labels": false, "grid": true, "title": null}},
            "y": {"field": "mh", "type": "quantitative", "scale": {"domain": [-38.6, 36.8], "nice": false},
                  "axis": {"orient": "right", "values": [-20, 20], "labelExpr": "datum.value + \"'0\"", "labelPadding": 6, "labelOverlap": false, "grid": true, "title": null}},
            "color": {"condition": {"test": "datum.mh >= 0", "value": "#1a8c1a"}, "value": "#e8174b"}
          }
        },
        {
          "data": {"name": "macd"},
          "mark": {"type": "line", "color": "#a3466a", "strokeWidth": 0.9, "interpolate": "monotone"},
          "encoding": {"x": {"field": "t", "type": "quantitative"}, "y": {"field": "s", "type": "quantitative"}}
        },
        {
          "data": {"name": "macd"},
          "mark": {"type": "line", "color": "#4fb9c6", "strokeWidth": 0.9, "interpolate": "monotone"},
          "encoding": {"x": {"field": "t", "type": "quantitative"}, "y": {"field": "m", "type": "quantitative"}}
        },
        {
          "data": {"values": [{}]},
          "mark": {"type": "text", "text": "MACD", "color": "#131722", "fontSize": 6.5, "align": "left", "baseline": "middle", "dx": 7, "dy": 10},
          "encoding": {"x": {"datum": -2.1, "type": "quantitative"}, "y": {"datum": 36.8, "type": "quantitative"}}
        },
        {
          "data": {"values": [{}]},
          "mark": {"type": "text", "text": "1'3", "color": "#1a8c1a", "fontSize": 6.5, "align": "left", "baseline": "middle", "dx": 29, "dy": 10},
          "encoding": {"x": {"datum": -2.1, "type": "quantitative"}, "y": {"datum": 36.8, "type": "quantitative"}}
        },
        {
          "data": {"values": [{}]},
          "mark": {"type": "text", "text": "-6'1", "color": "#4fb9c6", "fontSize": 6.5, "align": "left", "baseline": "middle", "dx": 43, "dy": 10},
          "encoding": {"x": {"datum": -2.1, "type": "quantitative"}, "y": {"datum": 36.8, "type": "quantitative"}}
        },
        {
          "data": {"values": [{}]},
          "mark": {"type": "text", "text": "-7'3", "color": "#d8093f", "fontSize": 6.5, "align": "left", "baseline": "middle", "dx": 58, "dy": 10},
          "encoding": {"x": {"datum": -2.1, "type": "quantitative"}, "y": {"datum": 36.8, "type": "quantitative"}}
        }
      ]
    },
    {
      "width": 862,
      "height": 67,
      "layer": [
        {
          "data": {"values": [{}]},
          "mark": {"type": "rect", "color": "#e6f0f2"},
          "encoding": {
            "x": {"datum": -2.1, "type": "quantitative", "scale": {"domain": [-2.1, 252], "nice": false, "zero": false},
                  "axis": {"values": [0, 20, 39, 62, 82, 103, 124, 144, 167, 188, 209, 230, 244], "grid": true, "title": null, "labelPadding": 3, "labelFontSize": 7, "labelFlush": false, "labelOverlap": false,
                           "labelAlign": {"condition": {"test": "datum.value == 0", "value": "left"}, "value": "center"},
                           "labelExpr": "datum.value == 0 ? '2022' : datum.value == 20 ? 'Tháng Hai' : datum.value == 39 ? 'Tháng 3' : datum.value == 62 ? 'Tháng 4' : datum.value == 82 ? 'Tháng Năm' : datum.value == 103 ? 'Tháng 6' : datum.value == 124 ? 'Tháng 7' : datum.value == 144 ? 'Tháng Tám' : datum.value == 167 ? 'Tháng 9' : datum.value == 188 ? 'Tháng 10' : datum.value == 209 ? 'Tháng 11' : datum.value == 230 ? 'Tháng Mười hai' : '21'"}},
            "x2": {"datum": 252},
            "y": {"datum": 70, "type": "quantitative", "scale": {"domain": [16.7, 91.1], "nice": false, "zero": false},
                  "axis": {"orient": "right", "values": [20, 40, 60, 80], "labels": false, "grid": true, "title": null}},
            "y2": {"datum": 30}
          }
        },
        {
          "data": {"values": [{"lvl": 70}, {"lvl": 30}]},
          "mark": {"type": "rule", "color": "#9598a1", "strokeWidth": 0.8, "strokeDash": [3, 3]},
          "encoding": {"y": {"field": "lvl", "type": "quantitative"}}
        },
        {
          "data": {"name": "rsi"},
          "mark": {"type": "line", "color": "#8d3566", "strokeWidth": 0.9},
          "encoding": {"x": {"field": "t", "type": "quantitative"}, "y": {"field": "r", "type": "quantitative"}}
        },
        {
          "data": {"name": "rsiTicks"},
          "mark": {"type": "text", "color": "#131722", "fontSize": 7, "align": "left", "baseline": "middle"},
          "encoding": {
            "x": {"datum": 253.8, "type": "quantitative"},
            "y": {"field": "r", "type": "quantitative"},
            "text": {"field": "lab"}
          }
        },
        {
          "data": {"values": [{}]},
          "mark": {"type": "text", "text": "RSI", "color": "#131722", "fontSize": 6.5, "align": "left", "baseline": "middle", "dx": 7, "dy": 9},
          "encoding": {"x": {"datum": -2.1, "type": "quantitative"}, "y": {"datum": 91.1, "type": "quantitative"}}
        },
        {
          "data": {"values": [{}]},
          "mark": {"type": "text", "text": "46.49", "color": "#c2185b", "fontSize": 6.5, "align": "left", "baseline": "middle", "dx": 21, "dy": 9},
          "encoding": {"x": {"datum": -2.1, "type": "quantitative"}, "y": {"datum": 91.1, "type": "quantitative"}}
        }
      ]
    }
  ]
}
